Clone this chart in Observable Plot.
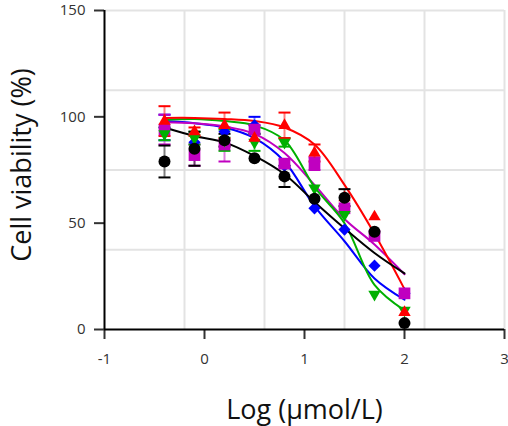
<!DOCTYPE html>
<html><head><meta charset="utf-8">
<script src="https://cdn.jsdelivr.net/npm/d3@7"></script>
<script src="https://cdn.jsdelivr.net/npm/@observablehq/plot@0.6"></script>
<style>body{margin:0;background:#fff;font-family:"Open Sans",sans-serif}</style>
</head><body><div id="chart"></div>
<script>
const logDose = [-0.4, -0.1, 0.2, 0.5, 0.8, 1.1, 1.4, 1.7, 2.0];
const seriesNames = ["blue", "magenta", "green", "red", "black"];
const colors = {blue: "#0000ff", red: "#ff0000", green: "#00b000", magenta: "#c000c0", black: "#000000"};
const symbols = {blue: "diamond2", red: "triangle", green: "triangle", magenta: "square", black: "circle"};
const rotations = {blue: 0, red: 0, green: 180, magenta: 0, black: 0};
const radii = {blue: 5.5, red: 4.6, green: 4.6, magenta: 6.6, black: 6};

const redValues     = [98, 93, 96, 90, 96, 83, 62, 53, 8];
const blueValues    = [95, 88, 93, 96, 77, 57, 47, 30, 17];
const greenValues   = [92, 90, 89, 88, 88, 66.5, 54, 16.5, 9];
const magentaValues = [94, 82, 87, 94, 78, 78, 57, 44, 17];
const blackValues   = [79, 85, 89, 80.5, 72, 61.5, 62, 46, 3];

const redErr     = [7, 2, 6, 0, 6, 4, 0, 0, 0];
const blueErr    = [6, 0, 0, 4, 0, 0, 0, 0, 0];
const greenErr   = [3, 3, 5, 4, 2, 0, 0, 0, 0];
const magentaErr = [7, 5, 8, 2, 2, 3, 0, 0, 0];
const blackErr   = [7.5, 8, 3, 0, 5, 0, 4, 0, 0];

const redCurve     = [99.5, 99.5, 99, 98, 95, 87, 68, 45, 19];
const greenCurve   = [98.6, 99, 98, 96, 89, 67, 50, 21, 9];
const blueCurve    = [98, 97, 95, 90, 79, 58, 41.5, 24, 14];
const magentaCurve = [97.5, 97, 95.5, 92, 83, 68, 52, 40, 26];
const blackCurve   = [95, 91, 88, 81.6, 73, 60, 47.6, 36, 26.4];

const xTicks = [-1, 0, 1, 2, 3];
const yTicks = [0, 50, 100, 150];
const xGrid = [-0.2, 0.6, 1.4, 2.2, 3];
const yGrid = [37.5, 75, 112.5, 150];

const valuesBy = {red: redValues, blue: blueValues, green: greenValues, magenta: magentaValues, black: blackValues};
const errBy = {red: redErr, blue: blueErr, green: greenErr, magenta: magentaErr, black: blackErr};
const curveBy = {red: redCurve, blue: blueCurve, green: greenCurve, magenta: magentaCurve, black: blackCurve};

const points = [], curves = [];
for (const s of seriesNames) {
  logDose.forEach((x, i) => {
    points.push({s, x, v: valuesBy[s][i], e: errBy[s][i]});
    curves.push({s, x, v: curveBy[s][i]});
  });
}
const bars = points.filter(d => d.e > 0);

const capSymbol = {draw(ctx, size) { const w = 6; ctx.moveTo(-w, 0); ctx.lineTo(w, 0); }};

const marks = [
  Plot.gridX(xGrid, {stroke: "#e3e3e3", strokeOpacity: 1, strokeWidth: 2}),
  Plot.gridY(yGrid, {stroke: "#e3e3e3", strokeOpacity: 1, strokeWidth: 2}),
  Plot.axisX(xTicks, {tickSize: 10, tickPadding: 14, fontSize: 15, tickFormat: d => String(d), label: null, strokeWidth: 2, color: "#333"}),
  Plot.axisY(yTicks, {tickSize: 10, tickPadding: 9, fontSize: 15, tickFormat: d => String(d), label: null, strokeWidth: 2, color: "#333"}),
  Plot.ruleX([-1], {stroke: "#000", strokeWidth: 2}),
  Plot.ruleY([0], {stroke: "#000", strokeWidth: 2}),
];
for (const s of seriesNames) {
  marks.push(Plot.line(curves.filter(d => d.s === s), {x: "x", y: "v", curve: "catmull-rom", stroke: colors[s], strokeWidth: 2}));
}
for (const s of seriesNames) {
  const sb = bars.filter(d => d.s === s);
  marks.push(Plot.ruleX(sb, {x: "x", y1: d => d.v - d.e, y2: d => d.v + d.e, stroke: colors[s], strokeOpacity: 0.5, strokeWidth: 2}));
  marks.push(Plot.dot(sb, {x: "x", y: d => d.v + d.e, symbol: capSymbol, stroke: colors[s], strokeWidth: 2, fill: "none"}));
  marks.push(Plot.dot(sb, {x: "x", y: d => d.v - d.e, symbol: capSymbol, stroke: colors[s], strokeWidth: 2, fill: "none"}));
}
for (const s of seriesNames) {
  marks.push(Plot.dot(points.filter(d => d.s === s), {x: "x", y: "v", symbol: symbols[s], rotate: rotations[s], r: radii[s], fill: colors[s], stroke: "none"}));
}
marks.push(Plot.text(["Log (μmol/L)"], {frameAnchor: "bottom", dy: 81, fontSize: 27, textAnchor: "middle", lineAnchor: "middle", fill: "#111"}));
marks.push(Plot.text(["Cell viability (%)"], {frameAnchor: "left", dx: -82, dy: -5, rotate: -90, textAnchor: "middle", lineAnchor: "middle", fontSize: 27, fill: "#111"}));

const chart = Plot.plot({
  width: 508, height: 426,
  marginLeft: 104, marginRight: 4, marginTop: 10, marginBottom: 97,
  style: {fontFamily: "'Open Sans', sans-serif", background: "#fff"},
  x: {domain: [-1, 3]},
  y: {domain: [0, 150]},
  marks
});
document.getElementById("chart").appendChild(chart);
</script></body></html>
